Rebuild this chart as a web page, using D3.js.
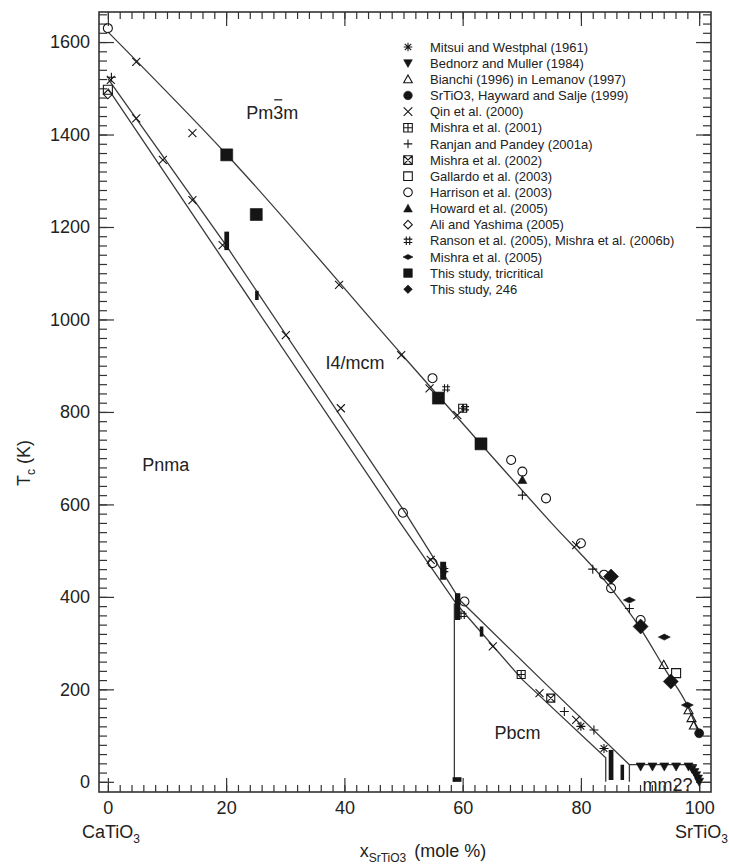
<!DOCTYPE html>
<html>
<head>
<meta charset="utf-8">
<title>CaTiO3 - SrTiO3 phase diagram</title>
<style>
  body { margin: 0; background: #fff; }
  svg text { font-family: "Liberation Sans", Arial, sans-serif; fill: #222; }
</style>
</head>
<body>
<script src="https://cdn.jsdelivr.net/npm/d3@7/dist/d3.min.js"></script>
<script>
// ---- data: [x SrTiO3 (mole %), Tc (K)] ----
var mitsui      = [[80, 120], [83.9, 72]];
var bednorz     = [[90.1, 33], [92.1, 33], [94.1, 33], [96.1, 33], [98.2, 33], [98.8, 28], [99.2, 21], [99.5, 14], [99.8, 7], [100, 0]];
var bianchi     = [[94, 253], [98.2, 155], [98.7, 138], [99.1, 122]];
var hayward     = [[100, 105]];
var qin         = [[4.8, 1557], [14.3, 1403], [39.1, 1075], [49.6, 923], [54.4, 851], [59.1, 793], [79.2, 512],
                   [0.5, 1518], [4.8, 1435], [9.3, 1345], [14.3, 1258], [19.4, 1161], [30.1, 966], [39.4, 808],
                   [54.6, 480], [65.1, 293], [73, 192], [79.2, 134]];
var mishra2001  = [[60, 808], [69.9, 232]];
var ranjan      = [[0.6, 1524], [70.1, 620], [82, 460], [88.2, 375], [77.2, 152], [82.2, 112]];
var mishra2002  = [[74.9, 181]];
var gallardo    = [[0, 1497], [96.1, 235]];
var harrison    = [[0, 1630], [54.9, 873], [68.2, 696], [70.1, 671], [74.1, 613], [80, 516], [83.9, 448],
                   [85.1, 419], [90.1, 350], [49.9, 582], [54.9, 473], [60.3, 390]];
var howard      = [[70.1, 653]];
var ali         = [[0, 1487]];
var ranson      = [[57.2, 851], [60.4, 808], [56.9, 458], [60, 361]];
var mishra2005  = [[88.2, 393], [94.1, 313], [98, 166]];
var tricritical = [[20.1, 1356], [25.1, 1227], [55.9, 830], [63.1, 731]];
var study246    = [[85.1, 444], [90.1, 336], [95.2, 217]];
// this study, transition ranges: [x from, x to, T low, T high]
var studyRanges = [[19.7, 20.5, 1150, 1190], [24.9, 25.5, 1042, 1062], [56.2, 57.2, 437, 476],
                   [58.7, 59.6, 350, 408], [62.9, 63.5, 314, 336], [58.3, 59.8, 0, 10],
                   [84.7, 85.5, 4, 69], [86.7, 87.3, 4, 37]];

// phase boundaries
var cubicLine  = [[0, 1622], [20, 1358], [50, 920], [75, 560], [85, 420], [90, 333], [94.4, 240], [98, 165], [100, 103]];
var upperBand  = [[0, 1521], [20, 1160], [50.4, 580], [59.6, 392], [73.3, 221], [88.2, 37], [88.2, 0]];
var lowerBand  = [[0, 1500], [48.7, 574], [59, 384], [70.1, 221], [84.2, 52], [84.2, 0]];
var pbcmEdge   = [[58.6, 0], [58.6, 386]];
var mm2Edge    = [[88.2, 37], [99.6, 37]];

var legendLabels = ["Mitsui and Westphal (1961)", "Bednorz and Muller (1984)", "Bianchi (1996) in Lemanov (1997)",
  "SrTiO3, Hayward and Salje (1999)", "Qin et al. (2000)", "Mishra et al. (2001)", "Ranjan and Pandey (2001a)",
  "Mishra et al. (2002)", "Gallardo et al. (2003)", "Harrison et al. (2003)", "Howard et al. (2005)",
  "Ali and Yashima (2005)", "Ranson et al. (2005), Mishra et al. (2006b)", "Mishra et al. (2005)",
  "This study, tricritical", "This study, 246"];
var xTicks = [0, 20, 40, 60, 80, 100];
var yTicks = [0, 200, 400, 600, 800, 1000, 1200, 1400, 1600];

// ---- layout ----
var frame = {left: 99, right: 711, top: 12, bottom: 792};
var ink = "#151515", lineInk = "#3a3a3a";

var svg = d3.select("body").append("svg")
    .attr("width", 729)
    .attr("height", 867);

var x = d3.scaleLinear().domain([-1.5, 102]).range([frame.left, frame.right]);
var y = d3.scaleLinear().domain([-22, 1665]).range([frame.bottom, frame.top]);

// axes, ticks pointing inward on all four sides
function clean(g) {
  g.select(".domain").remove();
  g.selectAll(".tick line").attr("stroke", "#333").attr("stroke-width", 1.2);
  g.selectAll("text").style("font-size", "18px");
}
svg.append("g").attr("transform", "translate(0," + frame.bottom + ")")
    .call(d3.axisBottom(x).tickValues(d3.range(0, 101, 2)).tickSize(-7).tickFormat("")).call(clean);
svg.append("g").attr("transform", "translate(0," + frame.bottom + ")")
    .call(d3.axisBottom(x).tickValues(xTicks).tickSize(-14).tickPadding(9).tickFormat(d3.format("d"))).call(clean);
svg.append("g").attr("transform", "translate(0," + frame.top + ")")
    .call(d3.axisTop(x).tickValues(d3.range(0, 101, 2)).tickSize(-7).tickFormat("")).call(clean);
svg.append("g").attr("transform", "translate(0," + frame.top + ")")
    .call(d3.axisTop(x).tickValues(xTicks).tickSize(-14).tickFormat("")).call(clean);
svg.append("g").attr("transform", "translate(" + frame.left + ",0)")
    .call(d3.axisLeft(y).tickValues(d3.range(0, 1661, 20)).tickSize(-8).tickFormat("")).call(clean);
svg.append("g").attr("transform", "translate(" + frame.left + ",0)")
    .call(d3.axisLeft(y).tickValues(yTicks).tickSize(-15).tickPadding(9).tickFormat(d3.format("d"))).call(clean);
svg.append("g").attr("transform", "translate(" + frame.right + ",0)")
    .call(d3.axisRight(y).tickValues(d3.range(0, 1661, 20)).tickSize(-8).tickFormat("")).call(clean);
svg.append("g").attr("transform", "translate(" + frame.right + ",0)")
    .call(d3.axisRight(y).tickValues(yTicks).tickSize(-15).tickFormat("")).call(clean);

svg.append("rect")
    .attr("x", frame.left).attr("y", frame.top)
    .attr("width", frame.right - frame.left).attr("height", frame.bottom - frame.top)
    .attr("fill", "none").attr("stroke", "#333").attr("stroke-width", 1.6);

// phase boundaries
var line = d3.line().x(function(d) { return x(d[0]); }).y(function(d) { return y(d[1]); });
[[cubicLine, d3.curveMonotoneX], [upperBand, d3.curveLinear], [lowerBand, d3.curveLinear],
 [pbcmEdge, d3.curveLinear], [mm2Edge, d3.curveLinear]].forEach(function(b) {
  svg.append("path")
      .attr("d", line.curve(b[1])(b[0]))
      .attr("fill", "none").attr("stroke", lineInk).attr("stroke-width", 1.3);
});

// marker shapes
function markerPath(kind, r) {
  var sq = "M" + -r + "," + -r + "H" + r + "V" + r + "H" + -r + "Z";
  var circ = "M" + r + ",0A" + r + "," + r + " 0 1,1 " + -r + ",0A" + r + "," + r + " 0 1,1 " + r + ",0Z";
  var k = r * 0.75;
  switch (kind) {
    case "asterisk": return {d: "M" + -r + ",0H" + r + "M0," + -r + "V" + r + "M" + -k + "," + -k + "L" + k + "," + k + "M" + -k + "," + k + "L" + k + "," + -k, fill: false};
    case "triDown": return {d: "M" + -r + "," + (-r * 0.8) + "H" + r + "L0," + r + "Z", fill: true};
    case "triUp": return {d: "M0," + -r + "L" + r + "," + (r * 0.8) + "H" + -r + "Z", fill: false};
    case "triUpFill": return {d: "M0," + -r + "L" + r + "," + (r * 0.8) + "H" + -r + "Z", fill: true};
    case "dot": return {d: circ, fill: true};
    case "circle": return {d: circ, fill: false};
    case "cross": return {d: "M" + -r + "," + -r + "L" + r + "," + r + "M" + -r + "," + r + "L" + r + "," + -r, fill: false};
    case "plus": return {d: "M" + -r + ",0H" + r + "M0," + -r + "V" + r, fill: false};
    case "sqPlus": return {d: sq + "M" + -r + ",0H" + r + "M0," + -r + "V" + r, fill: false};
    case "sqCross": return {d: sq + "M" + -r + "," + -r + "L" + r + "," + r + "M" + -r + "," + r + "L" + r + "," + -r, fill: false};
    case "square": return {d: sq, fill: false};
    case "squareFill": return {d: sq, fill: true};
    case "diamond": return {d: "M0," + -r + "L" + r + ",0L0," + r + "L" + -r + ",0Z", fill: false};
    case "diamondFill": return {d: "M0," + -r + "L" + r + ",0L0," + r + "L" + -r + ",0Z", fill: true};
    case "hash": return {d: "M" + (-r * 0.4) + "," + -r + "V" + r + "M" + (r * 0.4) + "," + -r + "V" + r +
                            "M" + -r + "," + (-r * 0.4) + "H" + r + "M" + -r + "," + (r * 0.4) + "H" + r, fill: false};
    case "flatDiamond": return {d: "M" + -r + ",0L0," + (-r * 0.5) + "L" + r + ",0L0," + (r * 0.5) + "Z", fill: true};
  }
}

var series = [
  {data: mitsui, kind: "asterisk", r: 4.5},
  {data: bednorz, kind: "triDown", r: 4.5},
  {data: bianchi, kind: "triUp", r: 4.5},
  {data: hayward, kind: "dot", r: 4.5},
  {data: qin, kind: "cross", r: 4},
  {data: mishra2001, kind: "sqPlus", r: 4},
  {data: ranjan, kind: "plus", r: 4.5},
  {data: mishra2002, kind: "sqCross", r: 4},
  {data: gallardo, kind: "square", r: 4.5},
  {data: harrison, kind: "circle", r: 4.5},
  {data: howard, kind: "triUpFill", r: 4.5},
  {data: ali, kind: "diamond", r: 4.5},
  {data: ranson, kind: "hash", r: 4},
  {data: mishra2005, kind: "flatDiamond", r: 6},
  {data: tricritical, kind: "squareFill", r: 6},
  {data: study246, kind: "diamondFill", r: 7.5}
];

function placeMarker(sel, kind, r) {
  var m = markerPath(kind, r);
  sel.append("path")
      .attr("d", m.d)
      .attr("fill", m.fill ? ink : "none")
      .attr("stroke", ink)
      .attr("stroke-width", m.fill ? 0.6 : 1.1);
}

// transition ranges from this study
svg.append("g").selectAll("rect")
    .data(studyRanges)
    .enter().append("rect")
    .attr("x", function(d) { return x(d[0]); })
    .attr("width", function(d) { return x(d[1]) - x(d[0]); })
    .attr("y", function(d) { return y(d[3]); })
    .attr("height", function(d) { return y(d[2]) - y(d[3]); })
    .attr("fill", ink);

series.forEach(function(s) {
  svg.append("g").selectAll("g")
      .data(s.data)
      .enter().append("g")
      .attr("transform", function(d) { return "translate(" + x(d[0]) + "," + y(d[1]) + ")"; })
      .each(function() { placeMarker(d3.select(this), s.kind, s.r); });
});

// legend
var legend = svg.append("g");
legendLabels.forEach(function(label, i) {
  var row = legend.append("g").attr("transform", "translate(408," + (47 + i * 16.15) + ")");
  placeMarker(row, series[i].kind, series[i].kind === "flatDiamond" ? 5 : 4.3);
  row.append("text").attr("x", 22).attr("dy", "0.36em").style("font-size", "13px").text(label);
});

// phase labels
var phaseLabels = [
  {text: "Pm3m", x: 23.4, t: 1434},
  {text: "I4/mcm", x: 36.8, t: 893},
  {text: "Pnma", x: 5.8, t: 672},
  {text: "Pbcm", x: 65.4, t: 93},
  {text: "mm2?", x: 90.4, t: -19}
];
phaseLabels.forEach(function(p) {
  var t = svg.append("text")
      .attr("x", x(p.x)).attr("y", y(p.t))
      .style("font-size", "18px")
      .text(p.text);
  if (p.text === "Pm3m") {
    // bar over the 3
    var ext = t.node().getExtentOfChar(2);
    svg.append("line")
        .attr("x1", ext.x + 1).attr("x2", ext.x + ext.width - 1)
        .attr("y1", ext.y - 3).attr("y2", ext.y - 3)
        .attr("stroke", "#222").attr("stroke-width", 1.3);
  }
});

// end members and axis titles
var ca = svg.append("text").attr("x", 82).attr("y", 838).style("font-size", "18px");
ca.append("tspan").text("CaTiO");
ca.append("tspan").attr("dy", 5).style("font-size", "12px").text("3");

var sr = svg.append("text").attr("x", 728).attr("y", 838).attr("text-anchor", "end").style("font-size", "18px");
sr.append("tspan").text("SrTiO");
sr.append("tspan").attr("dy", 5).style("font-size", "12px").text("3");

var xl = svg.append("text").attr("x", 423).attr("y", 857).attr("text-anchor", "middle").style("font-size", "18px");
xl.append("tspan").text("x");
xl.append("tspan").attr("dy", 5).style("font-size", "12px").text("SrTiO3");
xl.append("tspan").attr("dy", -5).attr("dx", 8).text("(mole %)");

var yl = svg.append("text")
    .attr("transform", "translate(30,463) rotate(-90)")
    .attr("text-anchor", "middle")
    .style("font-size", "18px");
yl.append("tspan").text("T");
yl.append("tspan").attr("dy", 5).style("font-size", "12px").text("c");
yl.append("tspan").attr("dy", -5).text(" (K)");
</script>
</body>
</html>
